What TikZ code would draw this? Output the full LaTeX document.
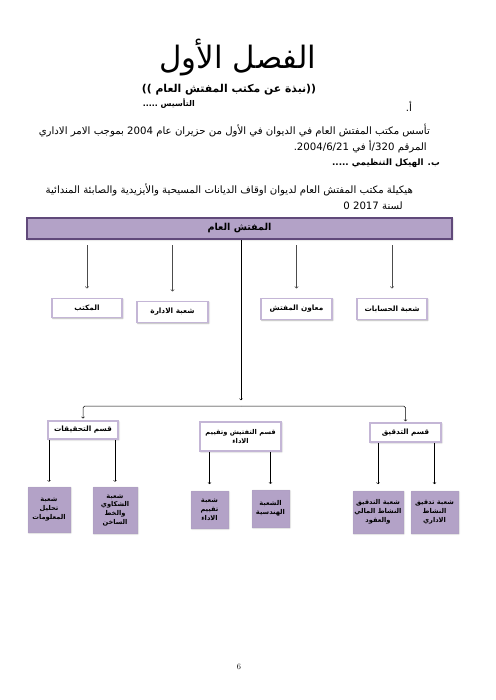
\documentclass[tikz,border=0pt]{standalone}
\usepackage{fontspec}
\newfontfamily\arabicfont[Script=Arabic]{DejaVu Sans}
\TeXXeTstate=1
\usetikzlibrary{shadows.blur}

\definecolor{lavender}{RGB}{179,162,199}
\definecolor{plumdark}{RGB}{96,73,122}
\definecolor{lilacedge}{RGB}{196,182,214}

% Arabic text, right to left; numbers left to right
\newcommand{\artxt}[1]{{\arabicfont\beginR #1\endR}}
\newcommand{\lnum}[1]{\beginL #1\endL{}}

\def\px{1.2pt}

\tikzset{
    bodyline/.style={anchor=east, inner sep=0pt, font=\fontsize{12.2}{14}\selectfont},
    chiefbar/.style={draw=plumdark, fill=lavender, line width=2.6pt,
        blur shadow={shadow xshift=1pt, shadow yshift=-1pt, shadow opacity=30},
        font=\fontsize{11.5}{13}\selectfont\bfseries, inner sep=0pt},
    unitbox/.style={draw=lilacedge, fill=white, line width=2.2pt,
        blur shadow={shadow xshift=1pt, shadow yshift=-1pt, shadow opacity=35},
        font=\fontsize{8.8}{11}\selectfont\bfseries, inner sep=0pt, align=center},
    branchbox/.style={draw=lilacedge!80!plumdark, fill=lavender, line width=0.5pt,
        blur shadow={shadow xshift=1pt, shadow yshift=-1pt, shadow opacity=40},
        font=\fontsize{8}{10.5}\selectfont\bfseries, inner sep=0pt, align=center},
    feed/.style={->, draw=gray!60!black, line width=0.7pt},
    link/.style={->, line width=0.6pt},
}

\begin{document}
\begin{tikzpicture}[x=1.2pt, y=-1.2pt, >=to]
    \useasboundingbox (0,0) rectangle (495,700);

    % --- العنوان والنص ---
    \node[font=\fontsize{37}{40}\selectfont] (title) at (238, 58) {\artxt{الفصل الأول}};
    \node[font=\fontsize{13}{15}\selectfont\bfseries] (subtitle) at (229, 90)
        {\artxt{((نبذة عن مكتب المفتش العام ))}};
    \node[bodyline] (secA) at (412, 106) {\artxt{أ.}};
    \node[bodyline, font=\fontsize{9.5}{11}\selectfont\bfseries] (found) at (195, 104)
        {\artxt{التأسيس .....}};
    \node[bodyline] (para1) at (430, 131)
        {\artxt{تأسس مكتب المفتش العام في الديوان في الأول من حزيران عام \lnum{2004} بموجب الامر الاداري}};
    \node[bodyline] (para2) at (427, 147)
        {\artxt{المرقم \lnum{320}/أ في \lnum{2004/6/21}.}};
    \node[bodyline, font=\fontsize{10.5}{12}\selectfont\bfseries] (secB) at (440, 163)
        {\artxt{ب. الهيكل التنظيمي .....}};
    \node[bodyline] (cap1) at (413, 190)
        {\artxt{هيكيلة مكتب المفتش العام لديوان اوقاف الديانات المسيحية والأيزيدية والصابئة المندائية}};
    \node[bodyline] (cap2) at (403, 206) {\artxt{لسنة \lnum{2017} \lnum{0}}};

    % --- المفتش العام ---
    \node[chiefbar, minimum width={425*\px}, minimum height={21*\px}] (chief) at (239.5, 228.5)
        {\artxt{المفتش العام}};

    % --- الصف الأول ---
    \node[unitbox, minimum width={70*\px}, minimum height={19*\px}] (office) at (87, 308) {\artxt{المكتب}};
    \node[unitbox, minimum width={71*\px}, minimum height={21*\px}] (admin) at (172.5, 312) {\artxt{شعبة الادارة}};
    \node[unitbox, minimum width={71*\px}, minimum height={21*\px}] (deputy) at (296.5, 309) {\artxt{معاون المفتش}};
    \node[unitbox, minimum width={70*\px}, minimum height={21*\px}] (accounts) at (392, 309) {\artxt{شعبة الحسابات}};

    \foreach \n in {office, admin, deputy, accounts}
        \draw[feed, shorten <=6pt, shorten >=11pt] (\n.north |- chief.south) -- (\n.north);

    % --- الأقسام ---
    \coordinate (hub) at (241, 406);
    \node[unitbox, minimum width={70*\px}, minimum height={18*\px}] (invest) at (83, 430) {\artxt{قسم التحقيقات}};
    \node[unitbox, minimum width={81*\px}, minimum height={29*\px}, font=\fontsize{8}{11}\selectfont\bfseries]
        (inspect) at (240.5, 436.5) {\artxt{قسم التفتيش وتقييم}\\\artxt{الاداء}};
    \node[unitbox, minimum width={71*\px}, minimum height={19*\px}] (audit) at (405.5, 432.5) {\artxt{قسم التدقيق}};

    \draw[link, shorten >=7pt] (hub |- chief.south) -- (hub);
    \draw[link, rounded corners=2pt, shorten >=2pt] (hub) -| (invest.north);
    \draw[link, rounded corners=2pt, shorten >=1pt] (hub) -| (audit.north);

    % --- الشعب ---
    \node[branchbox, minimum width={42*\px}, minimum height={45*\px}] (infoan) at (49, 509.5)
        {\artxt{شعبة}\\\artxt{تحليل}\\\artxt{المعلومات}};
    \node[branchbox, minimum width={44*\px}, minimum height={46*\px}] (complaint) at (115, 510)
        {\artxt{شعبة}\\\artxt{الشكاوي}\\\artxt{والخط}\\\artxt{الساخن}};
    \node[branchbox, minimum width={37*\px}, minimum height={37*\px}] (perf) at (209.5, 509.5)
        {\artxt{شعبة}\\\artxt{تقييم}\\\artxt{الاداء}};
    \node[branchbox, minimum width={37*\px}, minimum height={37*\px}] (eng) at (270.5, 508.5)
        {\artxt{الشعبة}\\\artxt{الهندسية}};
    \node[branchbox, minimum width={50*\px}, minimum height={42*\px}] (finaud) at (378, 512)
        {\artxt{شعبة التدقيق}\\\artxt{النشاط المالي}\\\artxt{والعقود}};
    \node[branchbox, minimum width={47*\px}, minimum height={42*\px}] (admaud) at (434.5, 512)
        {\artxt{شعبة تدقيق}\\\artxt{النشاط}\\\artxt{الاداري}};

    \draw[link, shorten >=6pt] (infoan.north |- invest.south) -- (infoan.north);
    \draw[link, shorten >=6pt] (complaint.north |- invest.south) -- (complaint.north);
    \draw[link, shorten >=8pt] (perf.north |- inspect.south) -- (perf.north);
    \draw[link, shorten >=7pt] (eng.north |- inspect.south) -- (eng.north);
    \draw[link, shorten >=8pt] (finaud.north |- audit.south) -- (finaud.north);
    \draw[link, shorten >=8pt] (admaud.north |- audit.south) -- (admaud.north);

    % --- رقم الصفحة ---
    \node[font=\normalsize] (pageno) at (239, 667) {6};
\end{tikzpicture}
\end{document}
